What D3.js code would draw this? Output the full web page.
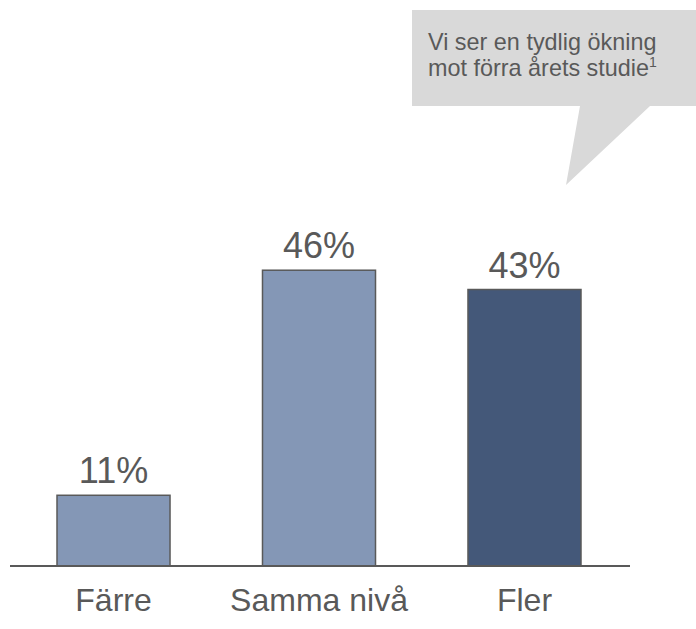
<!DOCTYPE html>
<html>
<head>
<meta charset="utf-8">
<script src="https://cdn.jsdelivr.net/npm/d3@7"></script>
<style>
  body { margin: 0; background: #fff; }
  text { font-family: "Liberation Sans", Arial, sans-serif; fill: #595959; }
</style>
</head>
<body>
<div id="chart"></div>
<script>
// data
var categories = ["Färre", "Samma nivå", "Fler"];
var values = [11, 46, 43];
var barColors = ["#8497B6", "#8497B6", "#445879"];
var calloutLines = ["Vi ser en tydlig ökning", "mot förra årets studie"];

var svgWidth = 696;
var svgHeight = 629;
var baseY = 566;

var svg = d3.select("#chart")
  .append("svg")
  .attr("width", svgWidth)
  .attr("height", svgHeight);

// scales
var xScale = d3.scaleBand()
  .domain(categories)
  .range([57, 581])
  .paddingInner(0.45)
  .paddingOuter(0);

var yScale = d3.scaleLinear()
  .domain([0, 50])
  .range([baseY, baseY - 321.5]);

// callout box
var callout = svg.append("g");
callout.append("path")
  .attr("d", "M412,10 L696,10 L696,106 L650,106 L566,185 L580,106 L412,106 Z")
  .attr("fill", "#D9D9D9");

var cText = callout.append("text")
  .attr("x", 428)
  .attr("font-size", "23.4px");
cText.append("tspan")
  .attr("x", 428).attr("y", 50)
  .text(calloutLines[0]);
cText.append("tspan")
  .attr("x", 428).attr("y", 76)
  .text(calloutLines[1]);
cText.append("tspan")
  .attr("dy", -9)
  .attr("font-size", "14px")
  .text("1");

// bars
svg.selectAll("rect.bar")
  .data(values)
  .enter()
  .append("rect")
  .attr("class", "bar")
  .attr("x", (d, i) => xScale(categories[i]))
  .attr("y", d => yScale(d))
  .attr("width", xScale.bandwidth())
  .attr("height", d => baseY - yScale(d))
  .attr("fill", (d, i) => barColors[i])
  .attr("stroke", "#595959")
  .attr("stroke-width", 1.5);

// value labels
svg.selectAll("text.val")
  .data(values)
  .enter()
  .append("text")
  .attr("class", "val")
  .attr("x", (d, i) => xScale(categories[i]) + xScale.bandwidth() / 2)
  .attr("y", d => yScale(d) - 12)
  .attr("text-anchor", "middle")
  .attr("font-size", "36px")
  .text(d => d + "%");

// baseline
svg.append("line")
  .attr("x1", 10).attr("x2", 630)
  .attr("y1", baseY).attr("y2", baseY)
  .attr("stroke", "#595959")
  .attr("stroke-width", 2);

// category labels
var xAxis = d3.axisBottom(xScale).tickSize(0).tickPadding(0);
var axisG = svg.append("g")
  .attr("transform", `translate(0, ${baseY})`)
  .call(xAxis);
axisG.select(".domain").remove();
axisG.selectAll("text")
  .attr("dy", 0)
  .attr("y", 45)
  .attr("font-size", "32px")
  .attr("fill", "#595959")
  .style("font-family", "'Liberation Sans', Arial, sans-serif");
</script>
</body>
</html>
